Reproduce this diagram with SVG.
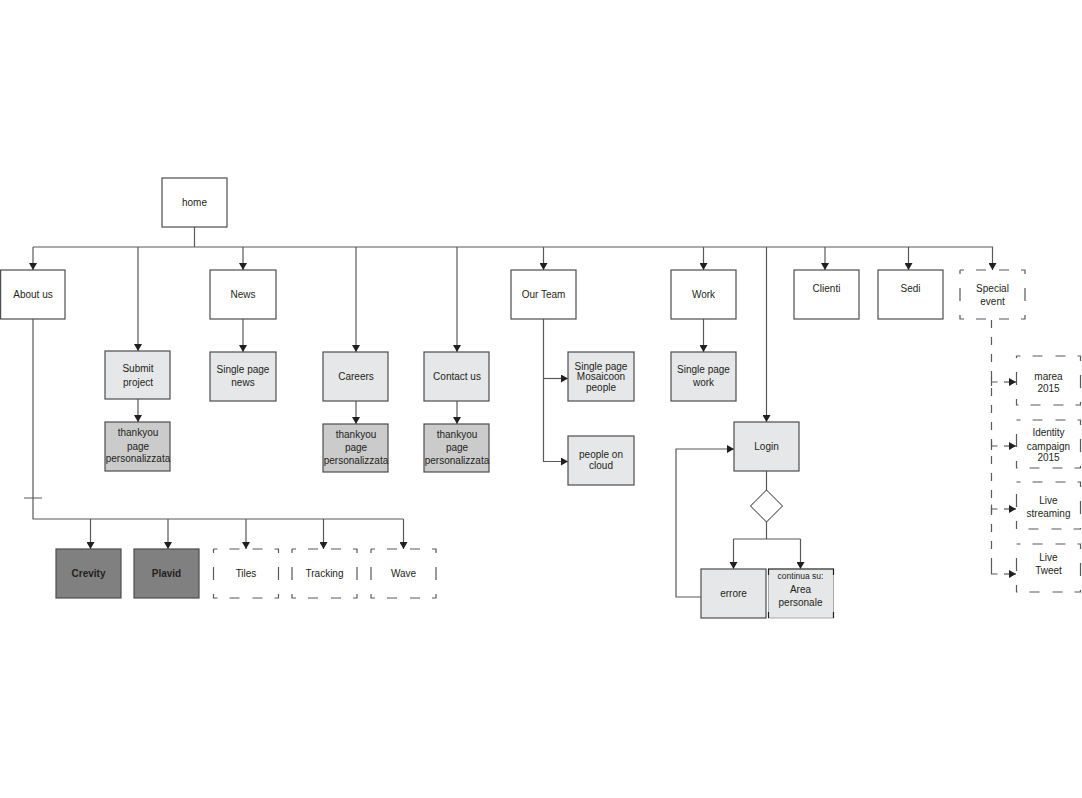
<svg xmlns="http://www.w3.org/2000/svg" width="1082" height="798" viewBox="0 0 1082 798">
<style>
  .bx{stroke:#4d4d4f;stroke-width:1.2}
  .w{fill:#ffffff}
  .l{fill:#e6e7e8}
  .t{fill:#cbcbcb}
  .d{fill:#808080}
  .ds{fill:#ffffff;stroke:#58595b;stroke-width:1.2;stroke-dasharray:4 12 10 13 10 12 8 14 13 14 8 12 10 13 10 12 8 14 13 14 4 0}
  text{font-family:"Liberation Sans",Arial,sans-serif;font-size:10px;fill:#231f20;text-anchor:middle}
  .b{font-weight:bold}
  .sm{font-size:8.5px}
  .cn path,.cn line{fill:none;stroke:#58595b;stroke-width:1.2}
  .dl{stroke-dasharray:8 9}
</style>
<defs>
  <marker id="ah" viewBox="0 0 10 10" refX="10" refY="5" markerWidth="7" markerHeight="8" markerUnits="userSpaceOnUse" orient="auto" preserveAspectRatio="none">
    <path d="M0,0 L10,5 L0,10 z" fill="#231f20"/>
  </marker>
</defs>

<g id="connectors" class="cn">
  <path d="M194.5,227 V247 M33,247 H993"/>
  <path d="M33,247 V270" marker-end="url(#ah)"/>
  <path d="M138,247 V351" marker-end="url(#ah)"/>
  <path d="M243,247 V270" marker-end="url(#ah)"/>
  <path d="M356,247 V352" marker-end="url(#ah)"/>
  <path d="M457,247 V352" marker-end="url(#ah)"/>
  <path d="M543.5,247 V270" marker-end="url(#ah)"/>
  <path d="M703.5,247 V270" marker-end="url(#ah)"/>
  <path d="M766.5,247 V422" marker-end="url(#ah)"/>
  <path d="M825,247 V270" marker-end="url(#ah)"/>
  <path d="M908.5,247 V270" marker-end="url(#ah)"/>
  <path d="M992.5,247 V270" marker-end="url(#ah)"/>

  <path d="M138,399 V422" marker-end="url(#ah)"/>
  <path d="M243,319 V352" marker-end="url(#ah)"/>
  <path d="M356,401 V424" marker-end="url(#ah)"/>
  <path d="M457,401 V424" marker-end="url(#ah)"/>

  <path d="M543.5,319 V461.5 H568" marker-end="url(#ah)"/>
  <path d="M543.5,378.5 H568" marker-end="url(#ah)"/>
  <path d="M703.5,319 V352" marker-end="url(#ah)"/>

  <path d="M766.5,471 V490 M766.5,522 V539 M733.5,539 H800.5"/>
  <path d="M733.5,539 V569" marker-end="url(#ah)"/>
  <path d="M800.5,539 V569" marker-end="url(#ah)"/>
  <path d="M701,597 H676 V449 H734" marker-end="url(#ah)"/>

  <path d="M33,319 V519 H403.5 M24,498 H42"/>
  <path d="M90.5,519 V549" marker-end="url(#ah)"/>
  <path d="M168,519 V549" marker-end="url(#ah)"/>
  <path d="M246,519 V549" marker-end="url(#ah)"/>
  <path d="M323.5,519 V549" marker-end="url(#ah)"/>
  <path d="M403.5,519 V549" marker-end="url(#ah)"/>

  <path class="dl" d="M991.5,320 V574"/>
  <path d="M991.5,377.5 V386 M991.5,441.5 V450 M991.5,504.5 V513 M991.5,566 V574 H997.5 M991.5,382 H997.5 M991.5,446 H997.5 M991.5,509 H997.5"/>
  <path d="M1004,382 H1016" marker-end="url(#ah)"/>
  <path d="M1004,446 H1016" marker-end="url(#ah)"/>
  <path d="M1004,509 H1016" marker-end="url(#ah)"/>
  <path d="M1004,574 H1016" marker-end="url(#ah)"/>
</g>

<g id="home"><rect class="bx w" x="162" y="178" width="65" height="49"/><text x="194.5" y="206">home</text></g>

<g id="about-us"><rect class="bx w" x="0.6" y="270" width="64.4" height="49"/><text x="33" y="298">About us</text></g>
<g id="submit-project"><rect class="bx l" x="105" y="351" width="65" height="48"/><text x="138" y="372">Submit</text><text x="138" y="385.5">project</text></g>
<g id="thankyou-submit"><rect class="bx t" x="105" y="422" width="65" height="49"/><text x="138" y="436">thankyou</text><text x="138" y="449.5">page</text><text x="138" y="462">personalizzata</text></g>
<g id="news"><rect class="bx w" x="210" y="270" width="66" height="49"/><text x="243" y="298">News</text></g>
<g id="single-page-news"><rect class="bx l" x="210" y="352" width="66" height="49"/><text x="243" y="373">Single page</text><text x="243" y="386">news</text></g>
<g id="careers"><rect class="bx l" x="323" y="352" width="65" height="49"/><text x="356" y="379.5">Careers</text></g>
<g id="thankyou-careers"><rect class="bx t" x="323" y="424" width="65" height="48"/><text x="356" y="437.5">thankyou</text><text x="356" y="450.5">page</text><text x="356" y="463.5">personalizzata</text></g>
<g id="contact-us"><rect class="bx l" x="424" y="352" width="65" height="49"/><text x="457" y="379.5">Contact us</text></g>
<g id="thankyou-contact"><rect class="bx t" x="424" y="424" width="65" height="48"/><text x="457" y="437.5">thankyou</text><text x="457" y="450.5">page</text><text x="457" y="463.5">personalizzata</text></g>

<g id="our-team"><rect class="bx w" x="511" y="270" width="65" height="49"/><text x="543.5" y="298">Our Team</text></g>
<g id="single-page-mosaicoon"><rect class="bx l" x="568" y="352" width="66" height="49"/><text x="601" y="369.5">Single page</text><text x="601" y="380.3">Mosaicoon</text><text x="601" y="391">people</text></g>
<g id="people-on-cloud"><rect class="bx l" x="568" y="436" width="66" height="49"/><text x="601" y="458">people on</text><text x="601" y="469">cloud</text></g>
<g id="work"><rect class="bx w" x="671" y="270" width="65" height="49"/><text x="703.5" y="298">Work</text></g>
<g id="single-page-work"><rect class="bx l" x="671" y="352" width="65" height="49"/><text x="703.5" y="373">Single page</text><text x="703.5" y="385.5">work</text></g>
<g id="clienti"><rect class="bx w" x="794" y="270" width="65" height="49"/><text x="826.5" y="292">Clienti</text></g>
<g id="sedi"><rect class="bx w" x="878" y="270" width="65" height="49"/><text x="910.5" y="292">Sedi</text></g>
<g id="special-event"><rect class="ds" x="960" y="270" width="65" height="49"/><text x="992.5" y="292">Special</text><text x="992.5" y="304.5">event</text></g>

<g id="login"><rect class="bx l" x="734" y="422" width="65" height="49"/><text x="766.5" y="449.5">Login</text></g>
<g id="decision"><polygon points="766.5,490 782.5,506 766.5,522 750.5,506" fill="#ffffff" stroke="#231f20" stroke-width="1"/></g>
<g id="errore"><rect class="bx l" x="701" y="569" width="65" height="49"/><text x="733.5" y="596.5">errore</text></g>
<g id="area-personale">
  <rect x="768.5" y="569" width="65" height="49" fill="#e6e7e8" stroke="#a7a9ac" stroke-width="1"/>
  <path d="M768.5,575 V569 H833.5 V575 M768.5,612 V618 M833.5,612 V618" fill="none" stroke="#231f20" stroke-width="1.2"/>
  <text class="sm" x="800.5" y="578.5">continua su:</text><text x="800.5" y="592.5">Area</text><text x="800.5" y="606">personale</text>
</g>

<g id="marea-2015"><rect class="ds" x="1016.5" y="356" width="64" height="49"/><text x="1048.5" y="380">marea</text><text x="1048.5" y="392">2015</text></g>
<g id="identity-campaign-2015"><rect class="ds" x="1016.5" y="420" width="64" height="48"/><text x="1048.5" y="436">Identity</text><text x="1048.5" y="449.5">campaign</text><text x="1048.5" y="461">2015</text></g>
<g id="live-streaming"><rect class="ds" x="1016.5" y="482" width="64" height="47"/><text x="1048.5" y="504">Live</text><text x="1048.5" y="517">streaming</text></g>
<g id="live-tweet"><rect class="ds" x="1016.5" y="544" width="64" height="48"/><text x="1048.5" y="561">Live</text><text x="1048.5" y="573.5">Tweet</text></g>

<g id="crevity"><rect class="bx d" x="56" y="549" width="65" height="49"/><text class="b" x="88.5" y="577">Crevity</text></g>
<g id="plavid"><rect class="bx d" x="134" y="549" width="65" height="49"/><text class="b" x="166.5" y="577">Plavid</text></g>
<g id="tiles"><rect class="ds" x="213.5" y="549" width="65" height="49"/><text x="246" y="577">Tiles</text></g>
<g id="tracking"><rect class="ds" x="292" y="549" width="65" height="49"/><text x="324.5" y="576.5">Tracking</text></g>
<g id="wave"><rect class="ds" x="371" y="549" width="65" height="49"/><text x="403.5" y="576.5">Wave</text></g>
</svg>
